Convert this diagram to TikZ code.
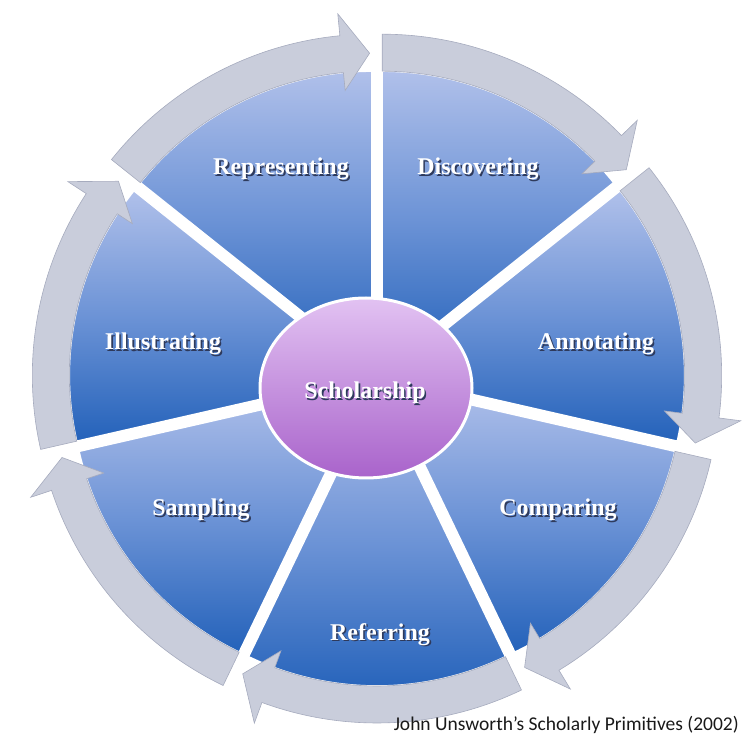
\documentclass[tikz,border=0pt]{standalone}
\usepackage{fontspec}
\setmainfont{Liberation Serif}
\newfontfamily\capfont{Carlito}
\usetikzlibrary{shapes.geometric}
\definecolor{bandfill}{HTML}{C9CDDB}
\definecolor{bandline}{HTML}{A6ABBE}
\definecolor{blueTop}{HTML}{B0C0EA}
\definecolor{blueMid}{HTML}{6C93D6}
\definecolor{blueBot}{HTML}{2462BA}
\definecolor{purTop}{HTML}{E2C2F2}
\definecolor{purBot}{HTML}{A963CB}
\definecolor{shadowcol}{HTML}{2E3A5C}
\newcommand\shtxt[1]{\makebox[0pt][l]{\hspace{1.6pt}\raisebox{-1.6pt}{\textcolor{shadowcol}{#1}}}#1}
\begin{document}
\begin{tikzpicture}[x=1pt,y=1pt,
  wedge/.style={top color=blueTop, bottom color=blueBot, middle color=blueMid, draw=white, line width=1.5pt},
  band/.style={fill=bandfill, draw=bandline, line width=0.6pt, line join=miter},
  lab/.style={font=\bfseries\fontsize{24}{28}\selectfont, text=white, inner sep=0pt}]
\useasboundingbox (0,0) rectangle (753,748);
\coordinate (C) at (377,370);
% blue wedges
\foreach \k in {0,...,6}{
  \pgfmathsetmacro\as{90-\k*360/7}
  \pgfmathsetmacro\ae{90-(\k+1)*360/7}
  \pgfmathsetmacro\am{(\as+\ae)/2}
  \begin{scope}[shift={(C)}]
  \begin{scope}[shift={(\am:12)}]
    \shade[wedge] (0,0) -- (\ae:296) arc[start angle=\ae, end angle=\as, radius=296] -- cycle;
  \end{scope}
  \end{scope}
}
% arrow bands
\foreach \k in {0,...,6}{
  \pgfmathsetmacro\as{90-\k*360/7}
  \pgfmathsetmacro\ae{90-(\k+1)*360/7}
  \pgfmathsetmacro\am{(\as+\ae)/2}
  \pgfmathsetmacro\ah{\ae+5.5}
  \pgfmathsetmacro\at{\ae+0.4}
  \begin{scope}[shift={(C)}]
  \begin{scope}[shift={(\am:12)}]
    \filldraw[band] (\as:296) -- (\as:333) arc[start angle=\as, end angle=\ah, radius=333]
      -- (\ah:355) -- (\at:314) -- (\ah:278) -- (\ah:296)
      arc[start angle=\ah, end angle=\as, radius=296] -- cycle;
  \end{scope}
  \end{scope}
}
% centre
\node[ellipse, minimum width=212pt, minimum height=180pt, top color=purTop, bottom color=purBot, draw=white, line width=3pt] (centre) at (366,360) {};
\node[lab] (schol) at (365,354) {\shtxt{Scholarship}};
\node[lab] (rep) at (281,578) {\shtxt{Representing}};
\node[lab] (dis) at (478,578) {\shtxt{Discovering}};
\node[lab] (ill) at (163,403) {\shtxt{Illustrating}};
\node[lab] (ann) at (596,403) {\shtxt{Annotating}};
\node[lab] (sam) at (201,237) {\shtxt{Sampling}};
\node[lab] (com) at (558,237) {\shtxt{Comparing}};
\node[lab] (ref) at (380,113) {\shtxt{Referring}};
\node[anchor=east, font=\capfont\fontsize{19.5}{22}\selectfont, text=black!90, inner sep=0pt] (cap) at (739,23) {John Unsworth’s Scholarly Primitives (2002)};
\end{tikzpicture}
\end{document}
